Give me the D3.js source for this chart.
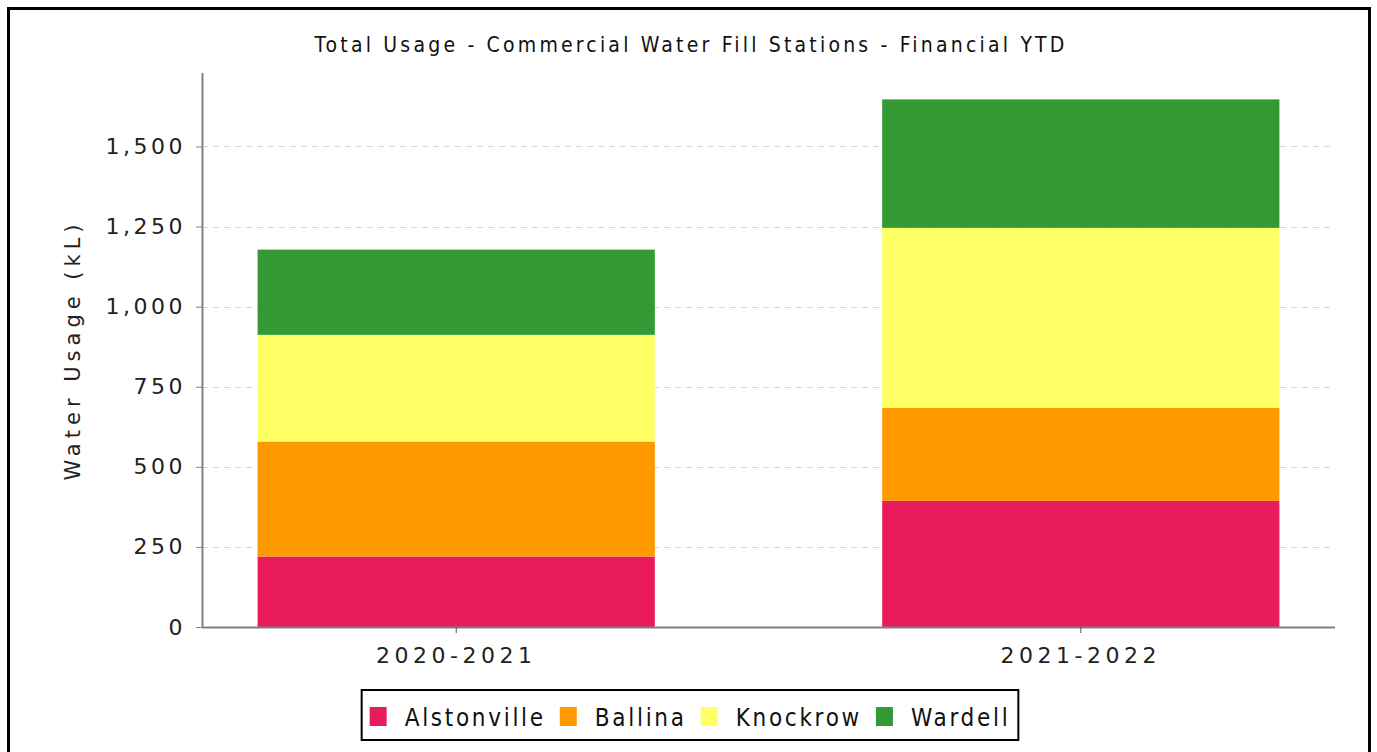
<!DOCTYPE html>
<html>
<head>
<meta charset="utf-8">
<script src="https://d3js.org/d3.v7.min.js"></script>
<style>
  body { margin: 0; background: #fff; }
  svg { display: block; }
</style>
</head>
<body>
<div id="chart"></div>
<script>
// data
const years = ["2020-2021", "2021-2022"];
const stations = ["Alstonville", "Ballina", "Knockrow", "Wardell"];
const alstonville = [220, 394];
const ballina = [359, 290];
const knockrow = [333, 562];
const wardell = [266, 401];
const colors = ["#ea1b5b", "#ff9900", "#ffff66", "#339933"];
const yTicks = [0, 250, 500, 750, 1000, 1250, 1500];

const w = 1377, h = 752;
const plotLeft = 202, plotRight = 1335, plotTop = 73, plotBottom = 627;

const rows = years.map((y, i) => ({
  year: y,
  Alstonville: alstonville[i],
  Ballina: ballina[i],
  Knockrow: knockrow[i],
  Wardell: wardell[i]
}));
const series = d3.stack().keys(stations)(rows);
const maxTotal = d3.max(series[series.length - 1], d => d[1]);

const svg = d3.select("#chart").append("svg")
  .attr("width", w)
  .attr("height", h);

// outer frame
svg.append("rect")
  .attr("x", 8.5).attr("y", 8.5)
  .attr("width", 1361).attr("height", 780)
  .attr("fill", "#fff")
  .attr("stroke", "#000")
  .attr("stroke-width", 3);

const x = d3.scaleBand()
  .domain(years)
  .range([plotLeft, plotRight])
  .paddingInner(0.364)
  .paddingOuter(0.089);

const y = d3.scaleLinear()
  .domain([0, maxTotal * 1.05])
  .range([plotBottom, plotTop]);

const color = d3.scaleOrdinal().domain(stations).range(colors);

// grid
svg.append("g")
  .selectAll("line")
  .data(yTicks.filter(d => d > 0))
  .enter()
  .append("line")
  .attr("x1", plotLeft).attr("x2", plotRight)
  .attr("y1", d => Math.round(y(d)) + 0.5)
  .attr("y2", d => Math.round(y(d)) + 0.5)
  .attr("stroke", "#d4d4d4")
  .attr("stroke-dasharray", "6,5");

// bars
svg.append("g")
  .selectAll("g")
  .data(series)
  .enter()
  .append("g")
  .attr("fill", d => color(d.key))
  .selectAll("rect")
  .data(d => d)
  .enter()
  .append("rect")
  .attr("x", d => x(d.data.year))
  .attr("width", x.bandwidth())
  .attr("y", d => y(d[1]))
  .attr("height", d => y(d[0]) - y(d[1]));

// y axis
const yAxis = svg.append("g")
  .attr("transform", "translate(" + plotLeft + ",0)")
  .call(d3.axisLeft(y).tickValues(yTicks).tickSize(6).tickPadding(10).tickFormat(d3.format(",")));
yAxis.select(".domain").attr("d", "M0.5," + plotTop + "V" + (plotBottom + 0.5)).attr("stroke", "#808080").attr("stroke-width", 2);
yAxis.selectAll(".tick line").attr("stroke", "#808080");
yAxis.selectAll("text")
  .attr("font-family", "DejaVu Sans, Verdana, sans-serif")
  .attr("font-size", 22)
  .attr("letter-spacing", 3.5)
  .attr("fill", "#222");

// x axis
const xAxis = svg.append("g")
  .attr("transform", "translate(0," + plotBottom + ")")
  .call(d3.axisBottom(x).tickSize(6).tickPadding(14));
xAxis.select(".domain").attr("d", "M" + plotLeft + ",0.5H" + plotRight).attr("stroke", "#808080").attr("stroke-width", 2);
xAxis.selectAll(".tick line").attr("stroke", "#555");
xAxis.selectAll("text")
  .attr("font-family", "DejaVu Sans, Verdana, sans-serif")
  .attr("font-size", 22)
  .attr("letter-spacing", 4.5)
  .attr("fill", "#222");

// y label
svg.append("text")
  .attr("transform", "translate(80," + ((plotTop + plotBottom) / 2) + ") rotate(-90)")
  .attr("text-anchor", "middle")
  .attr("font-family", "DejaVu Sans, Verdana, sans-serif")
  .attr("font-size", 21)
  .attr("letter-spacing", 5)
  .attr("fill", "#222")
  .text("Water Usage (kL)");

// title
svg.append("text")
  .attr("x", 691)
  .attr("y", 52)
  .attr("text-anchor", "middle")
  .attr("font-family", "DejaVu Sans Condensed, DejaVu Sans, sans-serif")
  .attr("font-stretch", "condensed")
  .attr("font-size", 21)
  .attr("letter-spacing", 3.2)
  .attr("fill", "#111")
  .text("Total Usage - Commercial Water Fill Stations - Financial YTD");

// legend
const legend = svg.append("g");
const box = legend.append("rect")
  .attr("fill", "#fff")
  .attr("stroke", "#000")
  .attr("stroke-width", 2);
let cx = 0;
stations.forEach((s, i) => {
  const item = legend.append("g").attr("transform", "translate(" + cx + ",0)");
  item.append("rect")
    .attr("x", 0).attr("y", -16)
    .attr("width", 17).attr("height", 19)
    .attr("fill", color(s));
  const t = item.append("text")
    .attr("x", 35).attr("y", 3)
    .attr("font-family", "DejaVu Sans Condensed, DejaVu Sans, sans-serif")
    .attr("font-stretch", "condensed")
    .attr("font-size", 24)
    .attr("letter-spacing", 2.7)
    .attr("fill", "#111")
    .text(s);
  cx += 35 + t.node().getComputedTextLength() + 14;
});
const legW = cx - 14;
legend.attr("transform", "translate(" + (690 - legW / 2) + ",723)");
box.attr("x", -8).attr("y", -33).attr("width", legW + 16).attr("height", 50);
</script>
</body>
</html>
